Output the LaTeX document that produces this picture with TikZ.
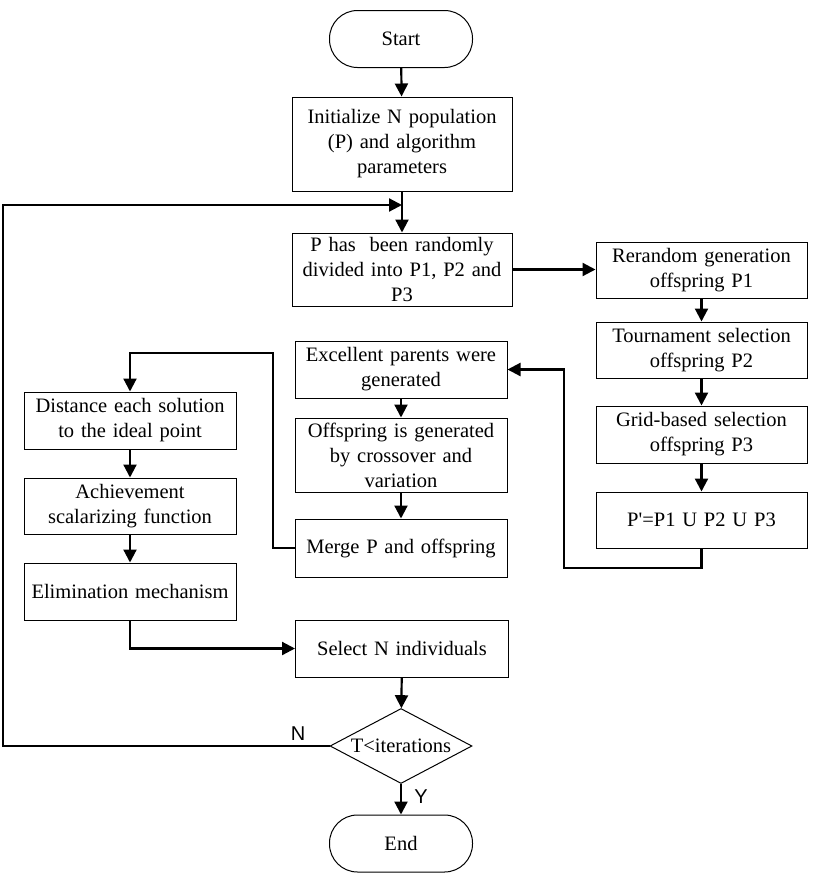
\documentclass[tikz,border=0pt]{standalone}
\usepackage{fontspec}
\setmainfont{Liberation Serif}
\newfontfamily\labfont{Liberation Sans}
\usetikzlibrary{shapes.geometric,arrows.meta}
\begin{document}
\begin{tikzpicture}[x=1pt,y=-1pt,
 box/.style={draw,line width=1pt,inner sep=0pt,align=center,font=\fontsize{20.5}{25}\selectfont},
 term/.style={box,rounded corners=28pt,minimum width=143pt,minimum height=57pt},
 conn/.style={line width=2.2pt,-{Triangle[length=13pt,width=13pt]}},
 lbl/.style={font=\labfont\fontsize{20}{24}\selectfont}
]
\useasboundingbox (0,0) rectangle (827,873);

\node[term] (start) at (401,39) {Start};
\node[box,minimum width=220pt,minimum height=94pt,text width=205pt] (init) at (402,144)
  {Initialize N population\\(P) and algorithm\\parameters};
\node[box,minimum width=220pt,minimum height=73pt,text width=205pt] (pdiv) at (402,269.5)
  {P has\ \ been randomly\\divided into P1, P2 and\\P3};
\node[box,minimum width=211pt,minimum height=56pt,text width=205pt] (rer) at (701.5,270)
  {Rerandom generation\\offspring P1};
\node[box,minimum width=211pt,minimum height=56pt,text width=205pt] (tour) at (701.5,350)
  {Tournament selection\\offspring P2};
\node[box,minimum width=211pt,minimum height=57pt,text width=205pt] (grid) at (701.5,434.5)
  {Grid-based selection\\offspring P3};
\node[box,minimum width=211pt,minimum height=56pt,text width=205pt] (pp) at (701.5,520)
  {P\textquotesingle=P1 U P2 U P3};
\node[box,minimum width=212pt,minimum height=57pt,text width=205pt] (exc) at (401,369.5)
  {Excellent parents were\\generated};
\node[box,minimum width=212pt,minimum height=74pt,text width=205pt] (off) at (401,455)
  {Offspring is generated\\by crossover and\\variation};
\node[box,minimum width=212pt,minimum height=58pt,text width=205pt] (merge) at (401,548)
  {Merge P and offspring};
\node[box,minimum width=212pt,minimum height=57pt,text width=206pt] (dist) at (130,420.5)
  {Distance each solution\\to the ideal point};
\node[box,minimum width=212pt,minimum height=56pt,text width=206pt] (ach) at (130,506)
  {Achievement\\scalarizing function};
\node[box,minimum width=212pt,minimum height=57pt,text width=206pt] (elim) at (130,591.5)
  {Elimination mechanism};
\node[box,minimum width=213pt,minimum height=57pt,text width=205pt] (sel) at (402,648.5)
  {Select N individuals};
\node[box,diamond,aspect=1.9,minimum width=142pt,minimum height=75pt] (dec) at (401,746)
  {T<iterations};
\node[term] (end) at (401,843.5) {End};

\node[lbl] (nl) at (298,734) {N};
\node[lbl] (yl) at (421,797) {Y};

\coordinate (c1) at (564,568);
\coordinate (c2) at (273,353);
\coordinate (c3) at (3,205);

\draw[conn] (start) -- (init);
\draw[conn] (init) -- (pdiv);
\draw[conn] (pdiv.east) -- (pdiv.east -| rer.west);
\draw[conn] (rer) -- (tour);
\draw[conn] (tour) -- (grid);
\draw[conn] (grid) -- (pp);
\draw[conn] (pp.south) |- (c1) |- (exc.east);
\draw[conn] (exc) -- (off);
\draw[conn] (off) -- (merge);
\draw[conn] (merge.west) -| (c2) -| (dist.north);
\draw[conn] (dist) -- (ach);
\draw[conn] (ach) -- (elim);
\draw[conn] (elim.south) |- (sel.west);
\draw[conn] (sel) -- (dec);
\draw[conn] (dec) -- (end);
\draw[conn] (dec.west) -| (c3) -- (c3 -| init.south);
\end{tikzpicture}
\end{document}
